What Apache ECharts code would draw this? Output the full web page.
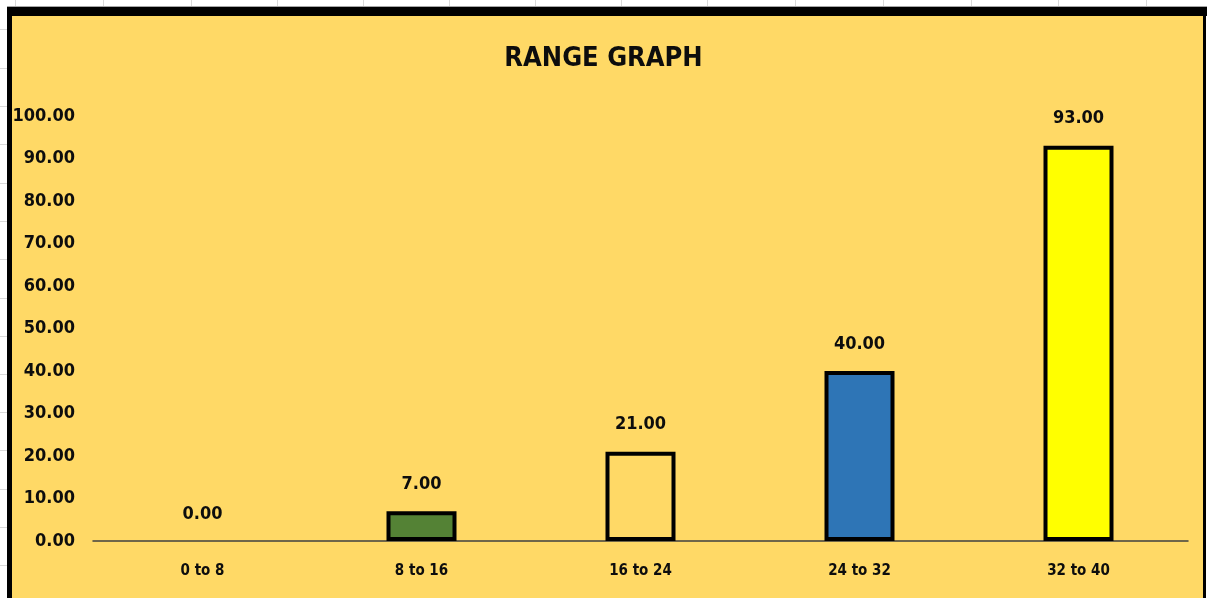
<!DOCTYPE html>
<html>
<head>
<meta charset="utf-8">
<script src="https://cdn.jsdelivr.net/npm/echarts@6/dist/echarts.min.js"></script>
<style>
html,body{margin:0;padding:0;background:#fff;}
#chart{width:1207px;height:598px;}
</style>
</head>
<body>
<div id="chart"></div>
<script>
var titleText = 'RANGE GRAPH';
var categories = ['0 to 8', '8 to 16', '16 to 24', '24 to 32', '32 to 40'];
var values = [0, 7, 21, 40, 93];
var palette = ['#FFD966', '#548235', '#FFD966', '#2E75B6', '#FFFF00'];
var yTicks = [0, 10, 20, 30, 40, 50, 60, 70, 80, 90, 100];

var FONT = '"Liberation Sans Narrow", "DejaVu Sans Condensed", "Arial Narrow", sans-serif';
var W = 1207, H = 598;

var deco = [];
// faint spreadsheet cell lines outside the chart
var vLines = [15, 103, 191, 277, 363, 449, 535, 621, 707, 795, 883, 971, 1058, 1146];
vLines.forEach(function (x) {
  deco.push({type: 'line', shape: {x1: x + 0.5, y1: 0, x2: x + 0.5, y2: 7}, style: {stroke: '#D9D9D9', lineWidth: 1}, z: 0});
});
var hLines = [29, 68, 106, 144, 183, 221, 259, 298, 336, 374, 412, 450, 489, 527, 565];
hLines.forEach(function (y) {
  deco.push({type: 'line', shape: {x1: 0, y1: y + 0.5, x2: 7, y2: y + 0.5}, style: {stroke: '#D9D9D9', lineWidth: 1}, z: 0});
});
deco.push({type: 'line', shape: {x1: 7, y1: 6.5, x2: W, y2: 6.5}, style: {stroke: '#A6A6A6', lineWidth: 1}, z: 0});
// chart area fill and borders
deco.push({type: 'rect', shape: {x: 12, y: 16, width: 1191, height: H - 16}, style: {fill: '#FFD966'}, z: 0});
deco.push({type: 'rect', shape: {x: 7, y: 7, width: W - 7, height: 9}, style: {fill: '#000'}, z: 0});
deco.push({type: 'rect', shape: {x: 7, y: 7, width: 5, height: H - 7}, style: {fill: '#000'}, z: 0});
deco.push({type: 'rect', shape: {x: 1203, y: 7, width: 3, height: H - 7}, style: {fill: '#000'}, z: 0});

var chart = echarts.init(document.getElementById('chart'));
chart.setOption({
  backgroundColor: '#ffffff',
  animation: false,
  graphic: {elements: deco},
  title: {
    text: titleText,
    left: 'center',
    top: 40,
    textStyle: {fontFamily: FONT, fontWeight: 'bold', fontSize: 27, color: '#0D0D0D'}
  },
  grid: {left: 93, right: 19, top: 116, bottom: 57},
  xAxis: {
    type: 'category',
    data: categories,
    axisLine: {show: true, lineStyle: {color: '#404040', width: 1.5}},
    axisTick: {show: false},
    axisLabel: {fontFamily: FONT, fontWeight: 'bold', fontSize: 15, color: '#0D0D0D', margin: 23}
  },
  yAxis: {
    type: 'value',
    min: yTicks[0],
    max: yTicks[yTicks.length - 1],
    interval: yTicks[1] - yTicks[0],
    splitLine: {show: false},
    axisLine: {show: false},
    axisTick: {show: false},
    axisLabel: {
      fontFamily: FONT, fontWeight: 'bold', fontSize: 18, color: '#0D0D0D', margin: 18,
      formatter: function (v) { return v.toFixed(2); }
    }
  },
  series: [{
    type: 'bar',
    z: 5,
    barWidth: 70,
    data: values.map(function (v, i) {
      return {
        value: v,
        itemStyle: {color: palette[i], borderColor: '#000', borderWidth: v === 0 ? 0 : 4}
      };
    }),
    label: {
      show: true,
      position: 'top',
      distance: 18,
      fontFamily: FONT, fontWeight: 'bold', fontSize: 18, color: '#0D0D0D',
      formatter: function (p) { return p.value.toFixed(2); }
    }
  }]
});
</script>
</body>
</html>
